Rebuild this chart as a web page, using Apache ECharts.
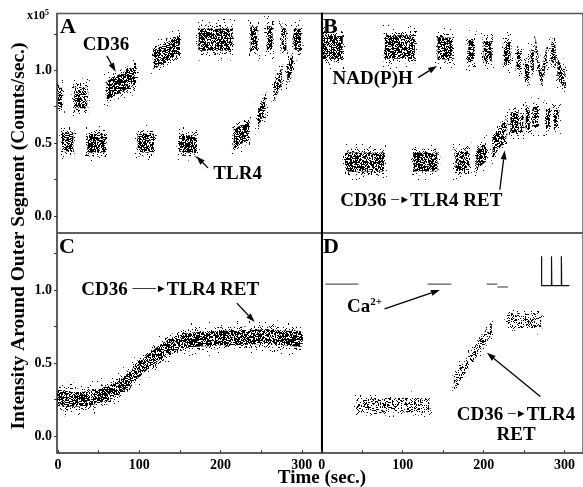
<!DOCTYPE html>
<html>
<head>
<meta charset="utf-8">
<script src="https://cdn.jsdelivr.net/npm/echarts@6/dist/echarts.min.js"></script>
<style>
  html, body { margin: 0; padding: 0; background: #fff; }
  #main { width: 583px; height: 487px; }
</style>
</head>
<body>
<div id="main"></div>
<script>
// clusters of photon counts: [tStart, tEnd, levelStart, levelEnd, halfSpread]
const cd36A = [
  [0, 5, 0.81, 0.81, 0.07], [20, 36, 0.81, 0.81, 0.07], [60, 96, 0.86, 0.97, 0.065],
  [118, 150, 1.07, 1.18, 0.065], [173, 215, 1.21, 1.21, 0.075], [237, 245, 1.22, 1.22, 0.08],
  [257, 264, 1.22, 1.22, 0.08], [275, 281, 1.22, 1.21, 0.075], [290, 299, 1.21, 1.21, 0.075]
];
const tlr4A = [
  [5, 19, 0.51, 0.51, 0.065], [36, 59, 0.50, 0.50, 0.065], [98, 118, 0.50, 0.50, 0.065],
  [149, 171, 0.50, 0.49, 0.06], [216, 235, 0.53, 0.59, 0.065], [246, 255, 0.66, 0.78, 0.055],
  [266, 275, 0.85, 0.96, 0.06], [282, 289, 0.96, 1.07, 0.06]
];
const nadB = [
  [0, 26, 1.16, 1.16, 0.08], [78, 115, 1.16, 1.16, 0.08], [143, 162, 1.15, 1.15, 0.075],
  [181, 188, 1.13, 1.13, 0.075], [200, 210, 1.13, 1.13, 0.07], [225, 233, 1.12, 1.12, 0.075],
  [241, 246, 1.08, 1.06, 0.065], [251, 256, 1.00, 0.98, 0.07], [258, 262, 1.08, 1.05, 0.07],
  [264, 271, 1.18, 0.93, 0.05], [271, 278, 0.93, 1.12, 0.05], [284, 289, 1.13, 1.10, 0.07],
  [291, 300, 1.02, 0.93, 0.065]
];
const retB = [
  [29, 77, 0.37, 0.37, 0.065], [113, 143, 0.37, 0.37, 0.065], [165, 182, 0.37, 0.38, 0.065],
  [191, 203, 0.38, 0.44, 0.065], [211, 228, 0.47, 0.60, 0.07], [233, 243, 0.64, 0.65, 0.07],
  [245, 249, 0.64, 0.64, 0.065], [252, 257, 0.66, 0.66, 0.065], [260, 267, 0.68, 0.68, 0.07],
  [277, 282, 0.67, 0.67, 0.065], [287, 292, 0.67, 0.67, 0.065]
];
// panel C: continuous RET trace
const cTime  = [0, 20, 40, 60, 75, 90, 105, 120, 135, 150, 170, 200, 230, 260, 280, 300];
const cLevel = [0.26, 0.25, 0.26, 0.29, 0.33, 0.40, 0.48, 0.55, 0.61, 0.645, 0.66, 0.67, 0.675, 0.68, 0.67, 0.665];
const cSpread = 0.05;
// panel D
const retD = [[43, 133, 0.21, 0.21, 0.05], [163, 210, 0.36, 0.74, 0.045], [229, 271, 0.79, 0.79, 0.05]];
const caStart = [4.5, 130.6, 203.8, 217];
const caEnd   = [45.4, 160, 217, 230];
const caLevel = [1.04, 1.04, 1.04, 1.02];
const spikeT = [271.6, 271.6, 283.8, 283.8, 284.2, 296, 296, 296.4, 306];
const spikeV = [1.23, 1.03, 1.03, 1.23, 1.03, 1.03, 1.23, 1.03, 1.03];

const yLabels = [0, 0.5, 1.0];
const yTickVals = [0, 0.25, 0.5, 0.75, 1.0, 1.25];
const xLabels = [0, 100, 200, 300];
const xTickVals = [0, 50, 100, 150, 200, 250, 300];

const SERIF = '"Liberation Serif", "Times New Roman", serif';

// speckle texture for the dense dot clouds
function speckle(density, seed) {
  const c = document.createElement('canvas');
  c.width = 97; c.height = 89;
  const g = c.getContext('2d');
  g.fillStyle = '#000';
  for (let y = 0; y < c.height; y++) {
    for (let x = 0; x < c.width; x++) {
      const n = Math.sin(x * 12.9898 + y * 78.233 + seed) * 43758.5453;
      if (n - Math.floor(n) < density) g.fillRect(x, y, 1, 1);
    }
  }
  return { image: c, repeat: 'repeat' };
}
const dense = [speckle(0.025, 3), speckle(0.14, 7), speckle(0.56, 11)];
const sparse = [speckle(0.012, 3), speckle(0.06, 7), speckle(0.26, 11)];

function clusters(data, xi, tex) {
  return {
    type: 'custom', xAxisIndex: xi, yAxisIndex: xi, clip: true, silent: true,
    data: data,
    renderItem: function (params, api) {
      const t0 = api.value(0), t1 = api.value(1), y0 = api.value(2), y1 = api.value(3), h = api.value(4);
      const poly = k => [api.coord([t0, y0 - h * k]), api.coord([t1, y1 - h * k]),
                         api.coord([t1, y1 + h * k]), api.coord([t0, y0 + h * k])];
      const pad = k => {
        const p = poly(k);
        const d = (k - 1) * 3;
        p[0][0] -= d; p[3][0] -= d; p[1][0] += d; p[2][0] += d;
        return p;
      };
      return {
        type: 'group',
        children: [
          { type: 'polygon', shape: { points: pad(1.9) }, style: { fill: tex[0] } },
          { type: 'polygon', shape: { points: pad(1.4) }, style: { fill: tex[1] } },
          { type: 'polygon', shape: { points: poly(1) }, style: { fill: tex[2] } }
        ]
      };
    }
  };
}

// annotations (data coordinates of each panel)
const notes = [
  [0, 59, 1.17, 'CD36'], [0, 221, 0.29, 'TLR4'],
  [1, 63, 0.94, 'NAD(P)H'], [1, 123, 0.10, 'CD36 {ar|\u2500\u25BA}TLR4 RET'],
  [2, 138, 1.0, 'CD36 {ar|\u2500\u2500\u2500\u25BA}TLR4 RET'],
  [3, 53, 0.88, 'Ca{s|2+}'], [3, 240, 0.14, 'CD36 {ar|\u2500\u25BA}TLR4'], [3, 240, 0.005, 'RET']
];
const arrows = [
  [0, 60, 1.10, 71, 0.99], [0, 184.5, 0.33, 170, 0.41],
  [1, 119, 0.95, 142.5, 1.03], [1, 220, 0.18, 226, 0.45],
  [2, 220, 0.91, 242, 0.78],
  [3, 77.6, 0.87, 146, 1.0], [3, 270, 0.27, 204, 0.57]
];

const chart = echarts.init(document.getElementById('main'), null, { renderer: 'canvas' });

const grids = [
  { left: 57, top: 13.5, width: 264.7, height: 219.5 },
  { left: 321.7, top: 13.5, width: 263.3, height: 219.5 },
  { left: 57, top: 233, width: 264.7, height: 220 },
  { left: 321.7, top: 233, width: 263.3, height: 220 }
].map(g => Object.assign(g, { show: true, borderColor: '#555', borderWidth: 1.5 }));

const labelFont = { fontFamily: SERIF, fontWeight: 'bold', fontSize: 14, color: '#000' };

const xAxis = [0, 1, 2, 3].map(i => {
  const left = i % 2 === 0;
  const ax = {
    type: 'value', gridIndex: i,
    min: left ? -1.2 : 0, max: left ? 324.4 : 322.7,
    splitLine: { show: false }
  };
  if (i < 2) {
    ax.show = false;
  } else {
    ax.axisLine = { show: true, onZero: false, lineStyle: { color: '#555', width: 1.5 } };
    ax.axisTick = { show: true, inside: true, length: 3, customValues: xTickVals, lineStyle: { color: '#333' } };
    ax.axisLabel = Object.assign({ show: true, margin: 5, customValues: xLabels }, labelFont);
  }
  return ax;
});

const yAxis = [0, 1, 2, 3].map(i => {
  const left = i % 2 === 0;
  const ax = {
    type: 'value', gridIndex: i, min: -0.117, max: 1.39,
    splitLine: { show: false }
  };
  if (left) {
    ax.axisLine = { show: true, onZero: false, lineStyle: { color: '#555', width: 1.5 } };
    ax.axisTick = { show: true, length: 3, customValues: yTickVals, lineStyle: { color: '#333' } };
    ax.axisLabel = Object.assign({ show: true, margin: 5, customValues: yLabels,
      formatter: v => Number(v).toFixed(1) }, labelFont);
  } else {
    ax.axisLine = { show: true, onZero: false, lineStyle: { color: '#000', width: 2 } };
    ax.axisTick = { show: false };
    ax.axisLabel = { show: false };
  }
  return ax;
});

const series = [
  clusters(cd36A, 0, dense),
  clusters(tlr4A, 0, dense),
  clusters(nadB, 1, dense),
  clusters(retB, 1, dense),
  {
    type: 'custom', xAxisIndex: 2, yAxisIndex: 2, clip: true, silent: true,
    data: [[0]],
    renderItem: function (params, api) {
      const band = k => {
        const up = [], lo = [];
        cTime.forEach((t, i) => {
          up.push(api.coord([t, cLevel[i] + cSpread * k]));
          lo.unshift(api.coord([t, cLevel[i] - cSpread * k]));
        });
        return up.concat(lo);
      };
      return {
        type: 'group',
        children: [
          { type: 'polygon', shape: { points: band(2.3), smooth: 0.2 }, style: { fill: dense[0] } },
          { type: 'polygon', shape: { points: band(1.5), smooth: 0.2 }, style: { fill: dense[1] } },
          { type: 'polygon', shape: { points: band(1), smooth: 0.2 }, style: { fill: dense[2] } }
        ]
      };
    }
  },
  clusters(retD, 3, sparse),
  {
    type: 'custom', xAxisIndex: 3, yAxisIndex: 3, silent: true,
    data: caStart.map((s, i) => [s, caEnd[i], caLevel[i]]),
    renderItem: function (params, api) {
      const a = api.coord([api.value(0), api.value(2)]);
      const b = api.coord([api.value(1), api.value(2)]);
      return { type: 'line', shape: { x1: a[0], y1: a[1], x2: b[0], y2: b[1] },
               style: { stroke: '#333', lineWidth: 1 } };
    }
  },
  {
    type: 'line', xAxisIndex: 3, yAxisIndex: 3, silent: true, showSymbol: false,
    data: spikeT.map((t, i) => [t, spikeV[i]]),
    lineStyle: { color: '#111', width: 1.2 }
  }
];

const richText = {
  ar: { fontFamily: SERIF, fontWeight: 'bold', fontSize: 11, fill: '#000', padding: [0, 0, 2, 0] },
  s: { fontFamily: SERIF, fontWeight: 'bold', fontSize: 11, fill: '#000', verticalAlign: 'top', padding: [0, 0, 10, 0] }
};

// arrows and labels
[0, 1, 2, 3].forEach(gi => {
  series.push({
    type: 'custom', xAxisIndex: gi, yAxisIndex: gi, silent: true, clip: false,
    data: arrows.filter(a => a[0] === gi).map(a => a.slice(1)),
    renderItem: function (params, api) {
      const p = api.coord([api.value(0), api.value(1)]);
      const q = api.coord([api.value(2), api.value(3)]);
      const dx = q[0] - p[0], dy = q[1] - p[1];
      const len = Math.sqrt(dx * dx + dy * dy);
      const ux = dx / len, uy = dy / len;
      const hl = 9, hw = 3;
      const bx = q[0] - ux * hl, by = q[1] - uy * hl;
      return {
        type: 'group',
        children: [
          { type: 'line', shape: { x1: p[0], y1: p[1], x2: bx, y2: by }, style: { stroke: '#000', lineWidth: 1.3 } },
          { type: 'polygon', shape: { points: [q, [bx - uy * hw, by + ux * hw], [bx + uy * hw, by - ux * hw]] },
            style: { fill: '#000' } }
        ]
      };
    }
  });
  series.push({
    type: 'custom', xAxisIndex: gi, yAxisIndex: gi, silent: true, clip: false,
    data: notes.filter(n => n[0] === gi).map(n => [n[1], n[2]]),
    renderItem: function (params, api) {
      const p = api.coord([api.value(0), api.value(1)]);
      const txt = notes.filter(n => n[0] === gi)[params.dataIndex][3];
      return {
        type: 'text', x: p[0], y: p[1],
        style: {
          text: txt, fontFamily: SERIF, fontWeight: 'bold', fontSize: 19, fill: '#000',
          align: 'center', verticalAlign: 'middle', rich: richText
        }
      };
    }
  });
});

chart.setOption({
  animation: false,
  backgroundColor: '#fff',
  grid: grids,
  xAxis: xAxis,
  yAxis: yAxis,
  series: series,
  graphic: [
    { type: 'text', left: 27, top: 9,
      style: { text: 'x10{b|5}', fontFamily: SERIF, fontWeight: 'bold', fontSize: 12, fill: '#000', rich: {
        b: { fontFamily: SERIF, fontWeight: 'bold', fontSize: 8, fill: '#000', verticalAlign: 'top', padding: [0, 0, 6, 0] }
      } } },
    { type: 'text', left: 60, top: 16, style: { text: 'A', fontFamily: SERIF, fontWeight: 'bold', fontSize: 22, fill: '#000' } },
    { type: 'text', left: 323, top: 16, style: { text: 'B', fontFamily: SERIF, fontWeight: 'bold', fontSize: 22, fill: '#000' } },
    { type: 'text', left: 59, top: 236, style: { text: 'C', fontFamily: SERIF, fontWeight: 'bold', fontSize: 22, fill: '#000' } },
    { type: 'text', left: 323, top: 236, style: { text: 'D', fontFamily: SERIF, fontWeight: 'bold', fontSize: 22, fill: '#000' } },
    { type: 'text', x: 19, y: 236, rotation: Math.PI / 2,
      style: { text: 'Intensity Around Outer Segment (Counts/sec.)', fontFamily: SERIF, fontWeight: 'bold',
               fontSize: 19.5, fill: '#000', align: 'center', verticalAlign: 'middle' } },
    { type: 'text', x: 322, y: 478,
      style: { text: 'Time (sec.)', fontFamily: SERIF, fontWeight: 'bold', fontSize: 19, fill: '#000',
               align: 'center', verticalAlign: 'middle' } }
  ]
});
</script>
</body>
</html>
